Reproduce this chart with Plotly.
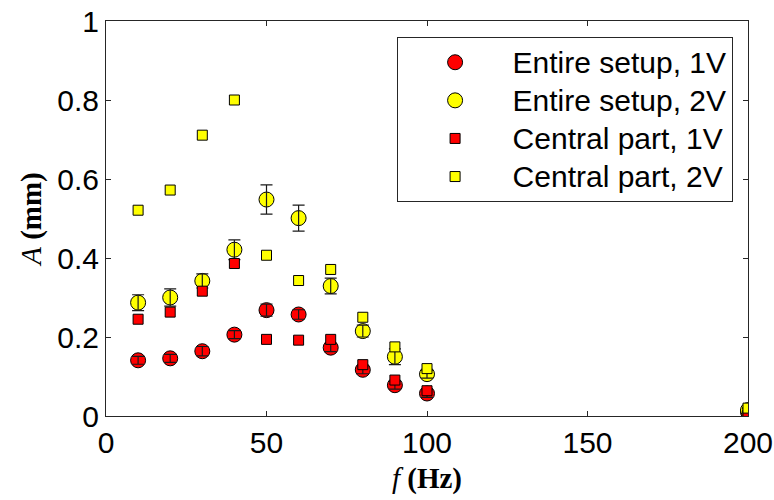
import plotly.graph_objects as go

freq = [10, 20, 30, 40, 50, 60, 70, 80, 90, 100, 200]

entire_1v = [0.141, 0.146, 0.164, 0.206, 0.268, 0.257, 0.173, 0.117, 0.078, 0.057, 0.010]
entire_1v_err = [0.010, 0.010, 0.012, 0.010, 0.015, 0.012, 0.010, 0.010, 0.010, 0.010, 0.003]

entire_2v = [0.287, 0.300, 0.342, 0.421, 0.548, 0.501, 0.329, 0.215, 0.150, 0.106, 0.015]
entire_2v_err = [0.020, 0.022, 0.018, 0.025, 0.037, 0.033, 0.020, 0.015, 0.020, 0.010, 0.005]

central_1v = [0.245, 0.263, 0.316, 0.386, 0.194, 0.192, 0.194, 0.130, 0.091, 0.064, 0.010]
central_2v = [0.521, 0.572, 0.711, 0.800, 0.407, 0.343, 0.371, 0.250, 0.175, 0.120, 0.020]

series_names = ["Entire setup, 1V", "Entire setup, 2V", "Central part, 1V", "Central part, 2V"]

RED = "#ff0000"
YELLOW = "#ffff00"
EDGE = "#000000"
ERRC = "#1a1a1a"


def legend_label(s):
    return "<span style='font-size:30px'>" + s + "</span>"


fig = go.Figure()

fig.add_trace(go.Scatter(
    x=freq, y=entire_1v, mode="markers", name=legend_label(series_names[0]),
    marker=dict(symbol="circle", size=15, color=RED, line=dict(color=EDGE, width=1)),
))
fig.add_trace(go.Scatter(
    x=freq, y=entire_2v, mode="markers", name=legend_label(series_names[1]),
    marker=dict(symbol="circle", size=15, color=YELLOW, line=dict(color=EDGE, width=1)),
))
# error bars drawn over the circles
for vals, errs in [(entire_1v, entire_1v_err), (entire_2v, entire_2v_err)]:
    fig.add_trace(go.Scatter(
        x=freq, y=vals, mode="markers", showlegend=False, hoverinfo="skip",
        marker=dict(size=1, opacity=0),
        error_y=dict(type="data", array=errs, visible=True, color=ERRC, thickness=1.2, width=6),
    ))
fig.add_trace(go.Scatter(
    x=freq, y=central_1v, mode="markers", name=legend_label(series_names[2]),
    marker=dict(symbol="square", size=10, color=RED, line=dict(color=EDGE, width=1)),
))
fig.add_trace(go.Scatter(
    x=freq, y=central_2v, mode="markers", name=legend_label(series_names[3]),
    marker=dict(symbol="square", size=10, color=YELLOW, line=dict(color=EDGE, width=1)),
))

axis_common = dict(
    showline=True, linecolor="#262626", linewidth=1, mirror="ticks",
    ticks="inside", ticklen=5, tickcolor="#262626", tickwidth=1,
    showgrid=False, zeroline=False, automargin=False,
    ticklabeloverflow="allow",
    tickfont=dict(family="Liberation Sans, Arial", size=30, color="#000000"),
)

fig.update_layout(
    width=774, height=500,
    margin=dict(l=106, r=26, t=21, b=84),
    paper_bgcolor="white", plot_bgcolor="white",
    xaxis=dict(range=[0, 200], tickvals=[0, 50, 100, 150, 200],
               title=dict(text="<i>f</i> <b>(Hz)</b>", standoff=9,
                          font=dict(family="Liberation Serif, Times New Roman", size=29, color="#000000")),
               **axis_common),
    yaxis=dict(range=[0, 1], tickvals=[0, 0.2, 0.4, 0.6, 0.8, 1],
               ticktext=["0", "0.2", "0.4", "0.6", "0.8", "1"],
               title=dict(text="<i>A</i> <b>(mm)</b>", standoff=7,
                          font=dict(family="Liberation Serif, Times New Roman", size=29, color="#000000")),
               **axis_common),
    legend=dict(
        x=0.976, y=0.959, xanchor="right", yanchor="top",
        bgcolor="white", bordercolor="#262626", borderwidth=1,
        font=dict(family="Liberation Sans, Arial", size=27, color="#000000"),
        itemwidth=105, tracegroupgap=0,
    ),
    showlegend=True,
)

fig.write_html("out.html", config={"displayModeBar": False},
               post_script="document.body.style.margin='0';")
